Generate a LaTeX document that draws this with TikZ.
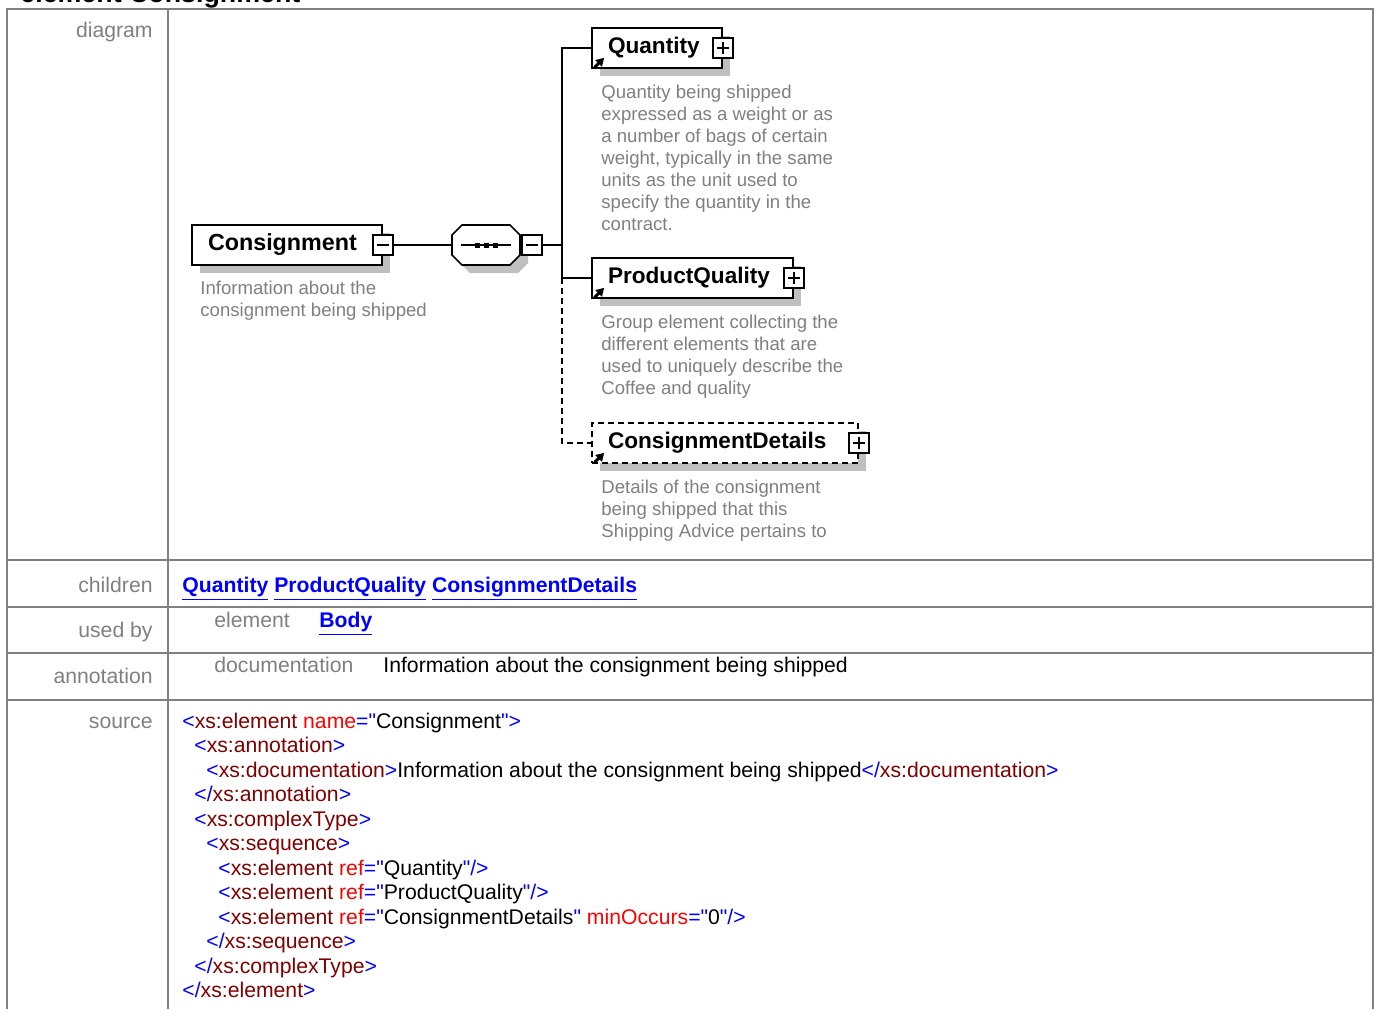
\documentclass[tikz,border=0pt]{standalone}
\usepackage{fontspec}
\setmainfont{Liberation Sans}[Ligatures=TeXOff]
\usetikzlibrary{positioning,arrows.meta,shadows}

\definecolor{tblline}{RGB}{128,128,128}
\definecolor{lblgray}{RGB}{128,128,128}
\definecolor{docgray}{RGB}{128,128,128}
\definecolor{linkblue}{RGB}{0,0,255}
\definecolor{xblue}{RGB}{0,0,255}
\definecolor{xtag}{RGB}{128,0,0}
\definecolor{xattr}{RGB}{255,0,0}

\tikzset{
  elem/.style={draw, line width=1pt, fill=white, minimum height=20pt, inner xsep=8pt,
               inner ysep=0pt, align=left, font=\fontsize{11.3}{13}\selectfont\bfseries,
               drop shadow={shadow xshift=4pt, shadow yshift=-4pt, fill=black!25, opacity=1}},
  optelem/.style={elem, dash pattern=on 3pt off 2pt},
  pmbox/.style={draw, line width=0.8pt, fill=white, minimum size=10pt, inner sep=0pt},
  minusbox/.style={pmbox, path picture={
      \draw[line width=0.8pt] ([xshift=-3pt]path picture bounding box.center)
        -- ([xshift=3pt]path picture bounding box.center);}},
  plusbox/.style={pmbox, path picture={
      \draw[line width=0.8pt] ([xshift=-3pt]path picture bounding box.center)
        -- ([xshift=3pt]path picture bounding box.center);
      \draw[line width=0.8pt] ([yshift=-3pt]path picture bounding box.center)
        -- ([yshift=3pt]path picture bounding box.center);}},
  seqbox/.style={minimum width=34pt, minimum height=20pt, inner sep=0pt},
  conn/.style={line width=0.8pt},
  optconn/.style={conn, dash pattern=on 3pt off 2pt},
  refarrow/.style={-{Triangle[length=4pt,width=4.5pt]}, line width=1.5pt},
  docu/.style={anchor=north west, align=left, inner sep=0pt, text=docgray,
               font=\fontsize{9.3}{11}\selectfont},
  tbl/.style={draw=tblline, line width=1pt},
  cell/.style={inner sep=0pt, font=\fontsize{10.6}{12.25}\selectfont},
  rowlbl/.style={cell, anchor=base east, text=lblgray},
  code/.style={cell, anchor=base west},
}
\newcommand{\qt}{\char34\relax}
\newcommand{\xbl}[1]{\textcolor{xblue}{#1}}
\newcommand{\xtg}[1]{\textcolor{xtag}{#1}}
\newcommand{\xat}[1]{\textcolor{xattr}{#1}}
\newcommand{\lnk}[1]{\textcolor{linkblue}{\bfseries\underline{#1}}}
% octagon of the sequence compositor, drawn from its centre
\newcommand{\octpath}{++(-17pt,5pt) -- ++(5pt,5pt) -- ++(24pt,0pt) -- ++(5pt,-5pt)
  -- ++(0pt,-10pt) -- ++(-5pt,-5pt) -- ++(-24pt,0pt) -- ++(-5pt,5pt) -- cycle}

\begin{document}
\begin{tikzpicture}[x=0.5pt, y=-0.5pt]

  \useasboundingbox (0,0) rectangle (1377,1009);
  \fill[white] (0,0) rectangle (1377,1009);

  % Title (cut off by the page)
  \node[anchor=base west, inner sep=0pt, font=\fontsize{13.4}{16}\selectfont\bfseries]
    (title) at (20,2) {element Consignment};

  % Table frame
  \draw[tbl] (7,1009) -- (7,9) -- (1373,9) -- (1373,1009);
  \draw[tbl] (167.5,9) -- (167.5,1009);
  \foreach \y in {560,607,653,700}
    \draw[tbl] (7,\y) -- (1373,\y);

  % Row labels
  \node[rowlbl] (lbldiag)  at (153,37)  {diagram};
  \node[rowlbl] (lblchild) at (153,592) {children};
  \node[rowlbl] (lblused)  at (153,637) {used by};
  \node[rowlbl] (lblannot) at (153,683) {annotation};
  \node[rowlbl] (lblsrc)   at (153,728) {source};

  % Diagram: element and its sequence
  \node[elem, text width=79pt, font=\fontsize{11.65}{13}\selectfont\bfseries]
    (cons) at (287,245) {Consignment};
  \node[minusbox] (consM) at (cons.east) {};
  \node[docu] (consDoc) at (200,280.5) {Information about the\\consignment being shipped};

  \node[seqbox] (seq) at (486,245) {};
  \fill[black!25] ([shift={(4pt,-4pt)}]seq.center) \octpath;
  \draw[conn, fill=white] (seq.center) \octpath;
  \draw[conn] ([xshift=-12.5pt]seq.center) -- ([xshift=12.5pt]seq.center);
  \foreach \dx in {-9,0,9}
    \fill ([shift={(\dx*0.5pt-1.25pt,-1.25pt)}]seq.center) rectangle ++(2.5pt,2.5pt);
  \node[minusbox, right=0.5pt of seq] (seqM) {};
  \coordinate (spine) at (562,245);

  % Children
  \node[elem, text width=49pt] (qty) at (657,48) {Quantity};
  \node[plusbox] (qtyP) at (qty.east) {};
  \draw[refarrow] ([xshift=1.8pt,yshift=0.8pt]qty.south west) -- ++(4.8pt,4.8pt);
  \node[docu] (qtyDoc) at (601,84.5) {Quantity being shipped\\expressed as a weight or as\\a number of bags of certain\\weight, typically in the same\\units as the unit used to\\specify the quantity in the\\contract.};

  \node[elem, text width=84.5pt] (pq) at (692.5,278) {ProductQuality};
  \node[plusbox] (pqP) at (pq.east) {};
  \draw[refarrow] ([xshift=1.8pt,yshift=0.8pt]pq.south west) -- ++(4.8pt,4.8pt);
  \node[docu] (pqDoc) at (601,314.5) {Group element collecting the\\different elements that are\\used to uniquely describe the\\Coffee and quality};

  \node[optelem, text width=117pt] (cd) at (725,443) {ConsignmentDetails};
  \node[plusbox] (cdP) at (cd.east) {};
  \draw[refarrow] ([xshift=1.8pt,yshift=0.8pt]cd.south west) -- ++(4.8pt,4.8pt);
  \node[docu] (cdDoc) at (601,479.5) {Details of the consignment\\being shipped that this\\Shipping Advice pertains to};

  % Connectors
  \draw[conn] (consM.east) -- (seq.west);
  \draw[conn] (seqM.east) -- (spine);
  \draw[conn] (qty.west) -| (spine) |- (pq.west);
  \draw[optconn] (spine |- pq.west) |- (cd.west);

  % children / used by / annotation rows
  \node[code] (childLinks) at (182,592) {\lnk{Quantity} \lnk{ProductQuality} \lnk{ConsignmentDetails}};
  \node[code, text=lblgray] (usedKind) at (214,627) {element};
  \node[code] (usedLink) at (319,627) {\lnk{Body}};
  \node[code, text=lblgray] (annotKind) at (214,672) {documentation};
  \node[code] (annotText) at (383,672) {Information about the consignment being shipped};

  % Source
  \node[code] (src1)  at (182,728)   {\xbl{<}\xtg{xs:element} \xat{name}\xbl{=\qt}Consignment\xbl{\qt>}};
  \node[code] (src2)  at (194,752.5) {\xbl{<}\xtg{xs:annotation}\xbl{>}};
  \node[code] (src3)  at (206,777)   {\xbl{<}\xtg{xs:documentation}\xbl{>}Information about the consignment being shipped\xbl{</}\xtg{xs:documentation}\xbl{>}};
  \node[code] (src4)  at (194,801.5) {\xbl{</}\xtg{xs:annotation}\xbl{>}};
  \node[code] (src5)  at (194,826)   {\xbl{<}\xtg{xs:complexType}\xbl{>}};
  \node[code] (src6)  at (206,850.5) {\xbl{<}\xtg{xs:sequence}\xbl{>}};
  \node[code] (src7)  at (218,875)   {\xbl{<}\xtg{xs:element} \xat{ref}\xbl{=\qt}Quantity\xbl{\qt/>}};
  \node[code] (src8)  at (218,899.5) {\xbl{<}\xtg{xs:element} \xat{ref}\xbl{=\qt}ProductQuality\xbl{\qt/>}};
  \node[code] (src9)  at (218,924)   {\xbl{<}\xtg{xs:element} \xat{ref}\xbl{=\qt}ConsignmentDetails\xbl{\qt} \xat{minOccurs}\xbl{=\qt}0\xbl{\qt/>}};
  \node[code] (src10) at (206,948.5) {\xbl{</}\xtg{xs:sequence}\xbl{>}};
  \node[code] (src11) at (194,973)   {\xbl{</}\xtg{xs:complexType}\xbl{>}};
  \node[code] (src12) at (182,997.5) {\xbl{</}\xtg{xs:element}\xbl{>}};

\end{tikzpicture}
\end{document}
